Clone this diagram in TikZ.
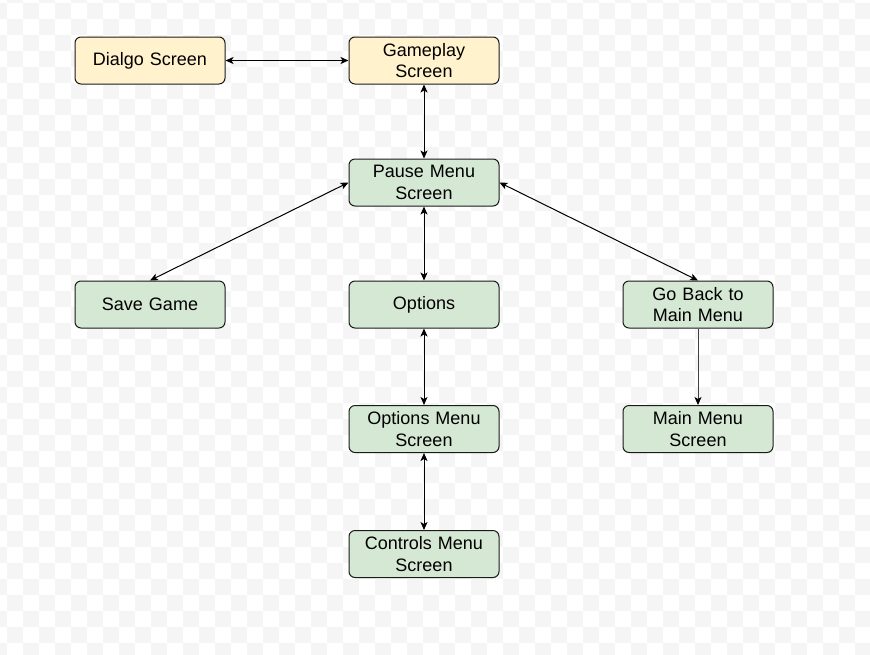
\documentclass[tikz,border=0pt]{standalone}
\usepackage{fontspec}
\setmainfont{Liberation Sans}
\usetikzlibrary{arrows.meta}
\definecolor{chk}{RGB}{245,245,245}
\definecolor{yfill}{HTML}{FFF2CC}
\definecolor{gfill}{HTML}{D5E8D4}
\definecolor{bstroke}{HTML}{1A1A1A}
\tikzset{
  box/.style={draw=bstroke, line width=1pt, rounded corners=6pt, minimum width=150pt, minimum height=47pt,
    inner sep=0pt, text width=146pt, align=center, font=\fontsize{18}{21.5}\selectfont},
  ybox/.style={box, fill=yfill},
  gbox/.style={box, fill=gfill},
  conn/.style={draw=black, line width=1pt, {Stealth[length=8pt,width=7pt,inset=2pt]}-{Stealth[length=8pt,width=7pt,inset=2pt]}},
  oneway/.style={draw=black!75, line width=1pt, -{Stealth[length=8pt,width=7pt,inset=2pt,black]}}
}
\begin{document}
\begin{tikzpicture}[x=1pt,y=-1pt]
\useasboundingbox (0,0) rectangle (870,654);
\fill[white] (0,0) rectangle (870,654);
\begin{scope}
\clip (0,0) rectangle (870,654);
\foreach \j in {-1,...,41} {
  \foreach \i in {-1,...,54} {
    \pgfmathtruncatemacro\s{mod(\i+\j+100,2)}
    \ifnum\s=1 \fill[chk] ({7+16*\i},{3+16*\j}) rectangle ++(16,16); \fi
  }
}
\end{scope}

\node[ybox] (dialgo) at (150,60.5) {Dialgo Screen};
\node[ybox] (game) at (424,60.5) {Gameplay\\Screen};
\node[gbox] (pause) at (424,182.5) {Pause Menu\\Screen};
\node[gbox] (save) at (150,304.5) {Save Game};
\node[gbox] (opt) at (424,304.5) {Options};
\node[gbox] (back) at (698,304.5) {Go Back to\\Main Menu};
\node[gbox] (optmenu) at (424,429) {Options Menu\\Screen};
\node[gbox] (mainmenu) at (698,429) {Main Menu\\Screen};
\node[gbox] (ctrl) at (424,554) {Controls Menu\\Screen};

\draw[conn] (dialgo.east) -- (game.west);
\draw[conn] (game.south) -- (pause.north);
\draw[conn] (pause.west) -- (save.north);
\draw[conn] (pause.south) -- (opt.north);
\draw[conn] (pause.east) -- (back.north);
\draw[conn] (opt.south) -- (optmenu.north);
\draw[conn] (optmenu.south) -- (ctrl.north);
\draw[oneway] (back.south) -- (mainmenu.north);
\end{tikzpicture}
\end{document}
